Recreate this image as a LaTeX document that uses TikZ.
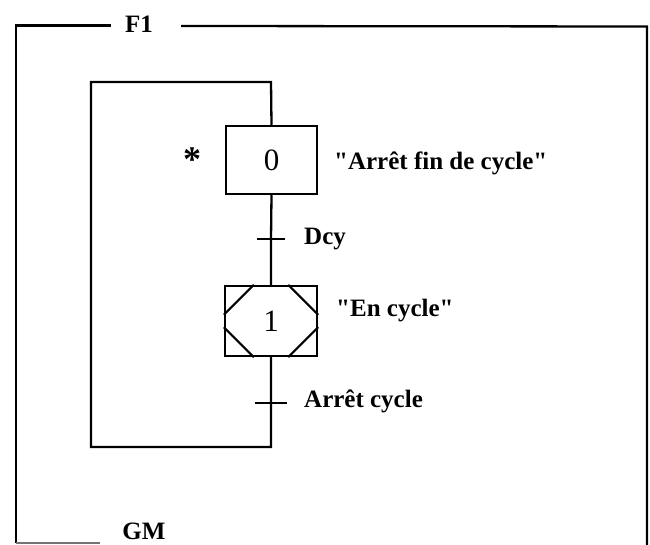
\documentclass[tikz,border=0pt]{standalone}
\usepackage{fontspec}
\setmainfont{Liberation Serif}[Ligatures=TeXOff]
\usetikzlibrary{calc}
\begin{document}
\begin{tikzpicture}[x=1pt,y=-1pt,
  ln/.style={line width=2.3pt},
  lbl/.style={font=\fontsize{25}{30}\selectfont\bfseries, inner sep=0pt},
  stepbox/.style={draw, line width=2.3pt, inner sep=0pt, font=\fontsize{31}{34}\selectfont},
  diag/.style={line width=2.1pt},
  tick/.style={line width=2.3pt}]
\useasboundingbox (0,0) rectangle (650,545);
% frame
\node[lbl] (f1) at (139,24) {F1};
\node[lbl] (gm) at (144,531) {GM};
\coordinate (ftl) at (16,25.5);
\coordinate (fbl) at (16,543);
\coordinate (fbe) at (100,543);
\coordinate (ftr) at (647,26.5);
\coordinate (fbr) at (647,545);
\draw[ln] ($(f1.west)+(-14,1.5)$) -- (ftl) -- (fbl);
\draw[line width=1.4pt, black!55] (fbl) -- (fbe);
\draw[ln] ($(f1.east)+(28,2)$) -- (ftr) -- (fbr);
% steps
\node[stepbox, minimum width=91, minimum height=68] (s0) at (271.5,160) {0};
\node[stepbox, minimum width=92, minimum height=70] (s1) at (271,321) {1};
\draw[diag] ($(s1.north west)+(30,0)$) -- ($(s1.north west)+(0,30)$);
\draw[diag] ($(s1.south west)+(30,0)$) -- ($(s1.south west)+(0,-30)$);
\draw[diag] ($(s1.north east)+(-30,0)$) -- ($(s1.north east)+(0,30)$);
\draw[diag] ($(s1.south east)+(-30,0)$) -- ($(s1.south east)+(0,-30)$);
% links
\coordinate (t0) at (271,239);
\coordinate (t1) at (271,403);
\coordinate (lbr) at (271,447);
\coordinate (lbl) at (91,447);
\coordinate (ltl) at (91,82);
\coordinate (ltr) at (271,82);
\draw[ln] (s0.south) -- (t0) -- (s1.north);
\draw[ln] (s1.south) -- (t1) -- (lbr) -- (lbl) -- (ltl) -- (ltr) -- (s0.north);
\draw[tick] ($(t0)+(-14,0)$) -- ($(t0)+(14,0)$);
\draw[tick] ($(t1)+(-16,0)$) -- ($(t1)+(16,0)$);
% labels
\node[font=\fontsize{36}{40}\selectfont\bfseries, inner sep=0pt] (star) at (192,160) {*};
\node[lbl, anchor=west] (c0) at (334,163) {"Arrêt fin de cycle"};
\node[lbl, anchor=west] (r0) at (304,239) {Dcy};
\node[lbl, anchor=west] (c1) at (336,311) {"En cycle"};
\node[lbl, anchor=west] (r1) at (304,401) {Arrêt cycle};
\end{tikzpicture}
\end{document}
